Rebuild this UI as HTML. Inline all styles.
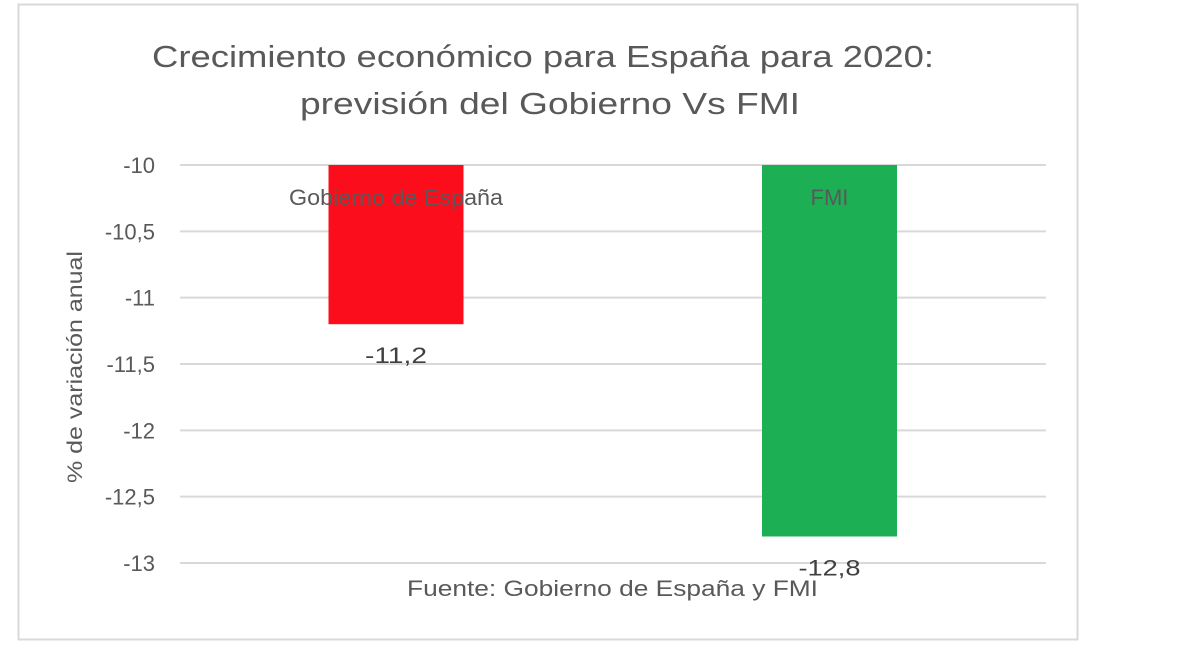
<!DOCTYPE html>
<html><head><meta charset="utf-8"><style>
body{margin:0;background:#fff;width:1182px;height:660px;overflow:hidden;font-family:"Liberation Sans",sans-serif}
</style></head><body>
<svg width="1182" height="660" id="svg">
<rect x="18.5" y="4.5" width="1059" height="635" fill="#fff" stroke="#d9d9d9" stroke-width="2"/>
<text x="152" y="67" textLength="782" lengthAdjust="spacingAndGlyphs" font-size="31" fill="#595959">Crecimiento económico para España para 2020:</text>
<text x="300" y="114" textLength="500" lengthAdjust="spacingAndGlyphs" font-size="31" fill="#595959">previsión del Gobierno Vs FMI</text>
<text transform="translate(82,367) rotate(-90)" text-anchor="middle" textLength="232" lengthAdjust="spacingAndGlyphs" font-size="21" fill="#595959">% de variación anual</text>
<g id="grid"></g><g id="bars"></g>
<text x="407" y="596" textLength="411" lengthAdjust="spacingAndGlyphs" font-size="22" fill="#595959">Fuente: Gobierno de España y FMI</text>
</svg>
<script>
const categories=["Gobierno de España","FMI"];
const values=[-11.2,-12.8];
const valueLabels=["-11,2","-12,8"];
const ticks=[-10,-10.5,-11,-11.5,-12,-12.5,-13];
const tickLabels=["-10","-10,5","-11","-11,5","-12","-12,5","-13"];
const colors=["#fc0d1b","#1daf54"];
const NS="http://www.w3.org/2000/svg";
const y=v=>165+(-10-v)*132.67;
const xc=i=>396+i*433.5;
const g=document.getElementById('grid'),b=document.getElementById('bars');
function mk(t,a,p){const e=document.createElementNS(NS,t);for(const k in a)e.setAttribute(k,a[k]);p.appendChild(e);return e;}
ticks.forEach((t,i)=>{
 const l=mk('line',{x1:180,x2:1046,y1:y(t),y2:y(t),stroke:'#d9d9d9','stroke-width':2},g);
 
 
 const tx=mk('text',{x:155,y:y(t)+8,'text-anchor':'end','font-size':22,fill:'#595959'},g);
 tx.textContent=tickLabels[i];
 
 
});
categories.forEach((c,i)=>{
 const r=mk('rect',{x:xc(i)-67.5,y:y(-10),width:135,height:y(values[i])-y(-10),fill:colors[i]},b);
 
 
 const t=mk('text',{x:xc(i),y:205,'text-anchor':'middle','font-size':22,fill:'#595959'},b);
 t.textContent=c;
 if(i===0){t.setAttribute('textLength',214);t.setAttribute('lengthAdjust','spacingAndGlyphs');}
 
 
 const v=mk('text',{x:xc(i),y:y(values[i])+39,'text-anchor':'middle','font-size':22,fill:'#404040',textLength:62,lengthAdjust:'spacingAndGlyphs'},b);
 v.textContent=valueLabels[i];
 
 
});
</script>
</body></html>
